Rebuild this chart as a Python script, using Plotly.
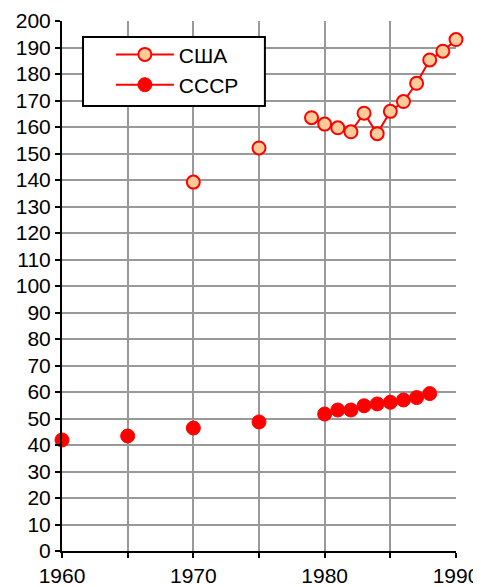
import plotly.graph_objects as go

years = list(range(1960, 1991))

# values; None where the year has no point
usa = {
    1970: 139.2, 1975: 152.1,
    1979: 163.5, 1980: 161.1, 1981: 159.7, 1982: 158.2, 1983: 165.2,
    1984: 157.5, 1985: 165.9, 1986: 169.6, 1987: 176.5, 1988: 185.3,
    1989: 188.6, 1990: 193.0,
}
ussr = {
    1960: 41.9, 1965: 43.4, 1970: 46.4, 1975: 48.7,
    1980: 51.7, 1981: 53.2, 1982: 53.2, 1983: 54.8, 1984: 55.5,
    1985: 56.1, 1986: 57.0, 1987: 57.9, 1988: 59.4,
}

usa_vals = [usa.get(y) for y in years]
ussr_vals = [ussr.get(y) for y in years]

x_ticks = list(range(1960, 1991, 5))
x_text = [str(y) if y % 10 == 0 else "" for y in x_ticks]

fig = go.Figure()

fig.add_trace(go.Scatter(
    x=years, y=usa_vals, name="США",
    mode="lines+markers", connectgaps=False, cliponaxis=False,
    line=dict(color="#ff0000", width=2),
    marker=dict(size=13, color="#ffcc99", line=dict(color="#ff0000", width=2)),
))

fig.add_trace(go.Scatter(
    x=years, y=ussr_vals, name="СССР",
    mode="lines+markers", connectgaps=False, cliponaxis=False,
    line=dict(color="#ff0000", width=2),
    marker=dict(size=14, color="#ff0000", line=dict(color="#ff0000", width=1)),
))

# legend frame drawn as a shape so its size can match the original
fig.add_shape(
    type="rect", xref="paper", yref="paper", layer="above",
    x0=0.0533, x1=0.515, y0=0.8396, y1=0.970,
    line=dict(color="black", width=2), fillcolor="white",
)
# stray grey edge at the right border of the original image
fig.add_shape(
    type="line", xref="paper", yref="paper",
    x0=1.056, x1=1.056, y0=0.7585, y1=0.832,
    line=dict(color="#888888", width=2),
)

# the page body adds 8px around the figure, so the figure is 8px smaller
fig.update_layout(
    width=473,
    height=579,
    margin=dict(l=54, r=25, t=13, b=36),
    paper_bgcolor="white",
    plot_bgcolor="white",
    font=dict(family="Liberation Sans, Arial, sans-serif", size=21, color="black"),
    showlegend=True,
    legend=dict(
        x=0.124, y=0.975, xanchor="left", yanchor="top",
        borderwidth=0, bgcolor="rgba(0,0,0,0)",
        font=dict(size=21), itemwidth=58,
        tracegroupgap=0,
    ),
)

fig.update_xaxes(
    range=[1960, 1990], automargin=False,
    tickvals=x_ticks, ticktext=x_text,
    showgrid=True, gridcolor="#999999", gridwidth=2,
    showline=True, linecolor="black", linewidth=2,
    ticks="outside", ticklen=5, tickcolor="black", tickwidth=2,
    zeroline=False,
)

fig.update_yaxes(
    range=[0, 200], dtick=10, automargin=False,
    showgrid=True, gridcolor="#999999", gridwidth=2,
    showline=True, linecolor="black", linewidth=2,
    ticks="outside", ticklen=5, tickcolor="black", tickwidth=2,
    zeroline=False,
)

fig.write_html("out.html")
